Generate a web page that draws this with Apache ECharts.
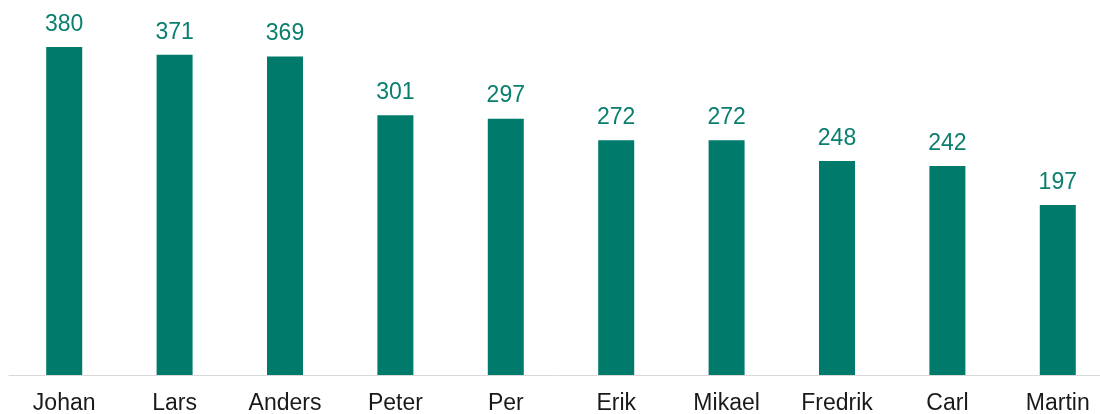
<!DOCTYPE html>
<html>
<head>
<meta charset="utf-8">
<style>
    html, body { margin: 0; padding: 0; background: #fff; }
    #chart { width: 1100px; height: 414px; }
</style>
<script src="https://cdn.jsdelivr.net/npm/echarts@6/dist/echarts.min.js"></script>
</head>
<body>
<div id="chart"></div>
<script>
// 名前と人数
const names = ['Johan', 'Lars', 'Anders', 'Peter', 'Per', 'Erik', 'Mikael', 'Fredrik', 'Carl', 'Martin'];
const counts = [380, 371, 369, 301, 297, 272, 272, 248, 242, 197];

const barColor = '#007B6B';

const myChart = echarts.init(document.getElementById('chart'));

const options = {
    animation: false,
    grid: {
        top: 47,
        bottom: 39,
        left: 9,
        width: 1104,
        containLabel: false,
        outerBoundsMode: 'none',
    },
    xAxis: {
        type: 'category',
        data: names,
        axisLine: {
            show: true,
            lineStyle: { color: '#D9D9D9', width: 1 }
        },
        axisTick: { show: false },
        axisLabel: {
            color: '#1a1a1a',
            fontFamily: 'Liberation Sans, Arial, sans-serif',
            fontSize: 23,
            margin: 17,
        }
    },
    yAxis: {
        type: 'value',
        min: 0,
        max: 380,
        show: false,
        splitLine: { show: false },
    },
    series: [
        {
            type: 'bar',
            data: counts,
            barWidth: 36,
            itemStyle: { color: barColor },
            label: {
                show: true,
                position: 'top',
                distance: 11,
                color: '#0A7F6E',
                fontFamily: 'Liberation Sans, Arial, sans-serif',
                fontSize: 23,
            }
        }
    ]
};

myChart.setOption(options);
</script>
</body>
</html>
